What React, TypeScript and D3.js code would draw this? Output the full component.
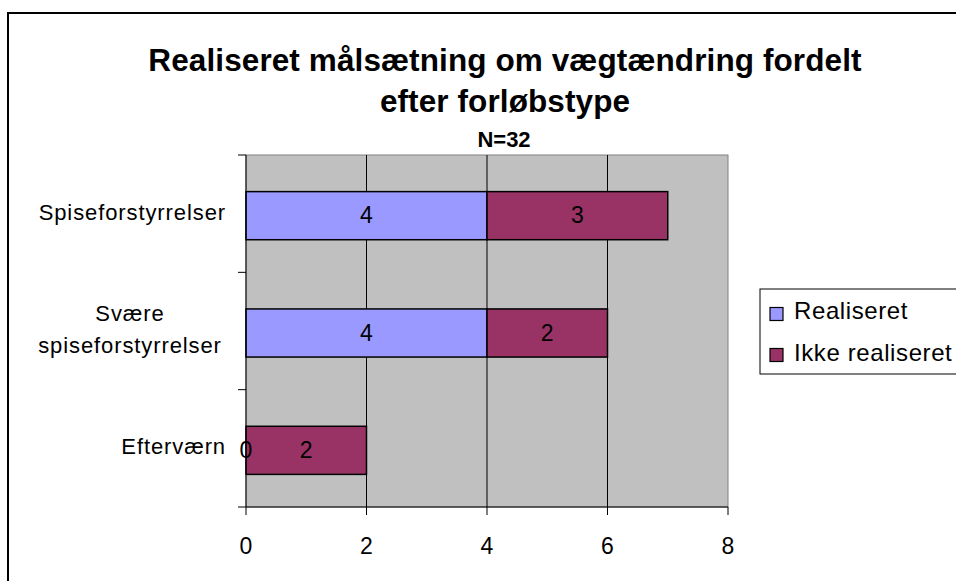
import React from "react";
import * as d3 from "d3";

const categories = ["Spiseforstyrrelser", "Svære spiseforstyrrelser", "Efterværn"];
const realiseret = [4, 4, 0];
const ikkeRealiseret = [3, 2, 2];
const seriesNames = ["Realiseret", "Ikke realiseret"];
const xTicks = [0, 2, 4, 6, 8];
const title1 = "Realiseret målsætning om vægtændring fordelt";
const title2 = "efter forløbstype";
const subtitle = "N=32";

const colors = ["#9999FF", "#993366"];
const font = "Arial, 'Liberation Sans', sans-serif";

export default function App() {
  const W = 956, H = 581;
  const pl = 246, pr = 728, pt = 155, pb = 507;
  const x = d3.scaleLinear().domain([0, 8]).range([pl, pr]);
  const y = d3.scaleBand().domain(categories).range([pt + 2, pb + 2]).paddingInner(0.59).paddingOuter(0.295);
  const yc = d3.scaleBand().domain(categories).range([pt, pb]);
  const bandStep = (pb - pt) / categories.length;
  const stacks = categories.map((c, i) => [
    { s: 0, x0: 0, x1: realiseret[i], v: realiseret[i] },
    { s: 1, x0: realiseret[i], x1: realiseret[i] + ikkeRealiseret[i], v: ikkeRealiseret[i] },
  ]);
  const labelLines = (c: string) => c === "Svære spiseforstyrrelser" ? ["Svære", "spiseforstyrrelser"] : [c];
  return (
    <svg width={W} height={H} style={{ position: "absolute", left: 0, top: 0, background: "#fff" }} fontFamily={font}>
      <rect x={8} y={13} width={W} height={H} fill="#fff" stroke="#000" strokeWidth={2} />
      <text x={505} y={71} textAnchor="middle" fontSize={31.5} fontWeight="bold" letterSpacing={0.1}>{title1}</text>
      <text x={505} y={112} textAnchor="middle" fontSize={31.5} fontWeight="bold" letterSpacing={0.1}>{title2}</text>
      <text x={504} y={146.5} textAnchor="middle" fontSize={22} fontWeight="bold">{subtitle}</text>
      <rect x={pl} y={pt} width={pr - pl} height={pb - pt} fill="#C0C0C0" stroke="#808080" strokeWidth={1} />
      {xTicks.slice(1, -1).map(t => (
        <line key={t} x1={x(t)} x2={x(t)} y1={pt} y2={pb} stroke="#000" strokeWidth={1} />
      ))}
      {stacks.map((segs, i) => segs.map(sg => sg.v > 0 ? (
        <rect key={i + "-" + sg.s} x={x(sg.x0)} y={y(categories[i])!} width={x(sg.x1) - x(sg.x0)} height={y.bandwidth()}
          fill={colors[sg.s]} stroke="#000" strokeWidth={1.5} />
      ) : null))}
      {stacks.map((segs, i) => segs.map(sg => (
        <text key={"l" + i + "-" + sg.s} x={(x(sg.x0) + x(sg.x1)) / 2} y={y(categories[i])! + y.bandwidth() / 2 + 7.5}
          textAnchor="middle" fontSize={23}>{sg.v}</text>
      )))}
      <line x1={pl} x2={pl} y1={pt} y2={pb} stroke="#000" strokeWidth={1} />
      <line x1={pl} x2={pr} y1={pb} y2={pb} stroke="#000" strokeWidth={1} />
      {d3.range(categories.length + 1).map(k => (
        <line key={"yt" + k} x1={pl - 8} x2={pl} y1={pt + k * bandStep} y2={pt + k * bandStep} stroke="#000" strokeWidth={1} />
      ))}
      {xTicks.map(t => (
        <g key={"xt" + t}>
          <line x1={x(t)} x2={x(t)} y1={pb} y2={pb + 8} stroke="#000" strokeWidth={1} />
          <text x={x(t)} y={554} textAnchor="middle" fontSize={23}>{t}</text>
        </g>
      ))}
      {categories.map(c => {
        const lines = labelLines(c);
        const cy = yc(c)! + yc.bandwidth() / 2;
        const lh = 32;
        const multi = lines.length > 1;
        return (
          <text key={c} fontSize={22} letterSpacing={0.9} textAnchor={multi ? "middle" : "end"}>
            {lines.map((ln, j) => (
              <tspan key={j} x={multi ? 130 : 226}
                y={cy + 6 + (j - (lines.length - 1) / 2) * lh}>{ln}</tspan>
            ))}
          </text>
        );
      })}
      <rect x={760} y={289} width={200} height={85} fill="#fff" stroke="#000" strokeWidth={1} />
      {seriesNames.map((n, i) => (
        <g key={n}>
          <rect x={770} y={307.5 + i * 41} width={13} height={13} fill={colors[i]} stroke="#000" strokeWidth={1.2} />
          <text x={794} y={319 + i * 42} fontSize={24} letterSpacing={0.6}>{n}</text>
        </g>
      ))}
    </svg>
  );
}
